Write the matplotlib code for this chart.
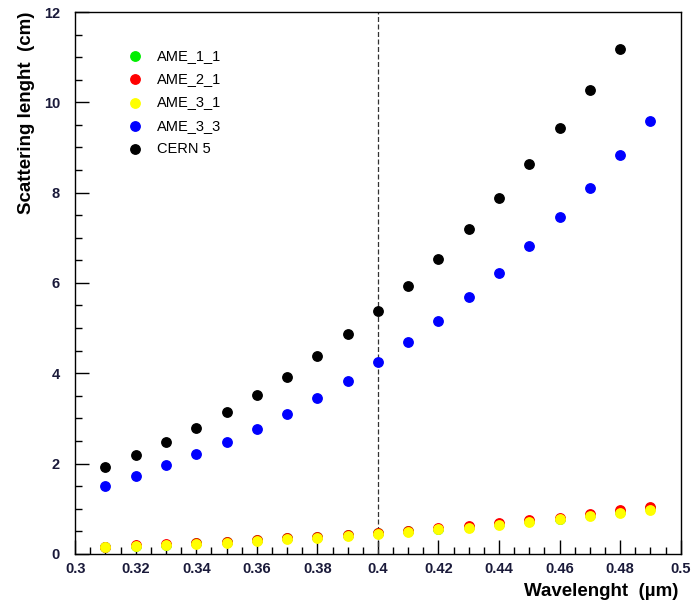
import matplotlib
matplotlib.use('Agg')
import matplotlib.pyplot as plt
from matplotlib.ticker import MultipleLocator

plt.rcParams['font.family'] = ['Liberation Sans', 'DejaVu Sans']

wl = [0.31, 0.32, 0.33, 0.34, 0.35, 0.36, 0.37, 0.38, 0.39, 0.40,
      0.41, 0.42, 0.43, 0.44, 0.45, 0.46, 0.47, 0.48, 0.49]

ame_1_1 = [0.16, 0.18, 0.20, 0.23, 0.26, 0.30, 0.34, 0.37, 0.41, 0.45,
           0.50, 0.55, 0.60, 0.66, 0.72, 0.78, 0.86, 0.93, 1.01]
ame_2_1 = [0.16, 0.185, 0.21, 0.24, 0.27, 0.31, 0.35, 0.38, 0.42, 0.46,
           0.51, 0.57, 0.62, 0.68, 0.74, 0.80, 0.89, 0.96, 1.04]
ame_3_1 = [0.155, 0.17, 0.19, 0.22, 0.25, 0.29, 0.32, 0.35, 0.39, 0.43,
           0.49, 0.54, 0.58, 0.64, 0.70, 0.76, 0.83, 0.91, 0.98]
ame_3_3 = [1.51, 1.73, 1.96, 2.21, 2.48, 2.77, 3.10, 3.45, 3.83, 4.24,
           4.70, 5.16, 5.68, 6.23, 6.82, 7.45, 8.11, 8.83, 9.59]
cern_5 = [1.93, 2.19, 2.48, 2.79, 3.14, 3.52, 3.92, 4.38, 4.87, 5.38,
          5.93, 6.53, 7.20, 7.88, 8.63, 9.43, 10.27, 11.18]

fig = plt.figure(figsize=(6.96, 6.0), dpi=100)
ax = fig.add_axes([0.108, 0.077, 0.870, 0.903])

ms = 46
ax.scatter(wl, ame_1_1, s=ms, color='#00ee00', label='AME_1_1', zorder=3)
ax.scatter(wl, ame_2_1, s=ms, color='#ff0000', label='AME_2_1', zorder=3)
ax.scatter(wl, ame_3_1, s=ms, color='#ffff00', label='AME_3_1', zorder=3)
ax.scatter(wl, ame_3_3, s=ms, color='#0000ff', label='AME_3_3', zorder=3)
ax.scatter(wl[:len(cern_5)], cern_5, s=ms, color='black', label='CERN 5', zorder=3)

ax.axvline(0.4, color='#333333', linestyle=(0, (4, 2)), linewidth=0.9, zorder=2)

ax.set_xlim(0.3, 0.5)
ax.set_ylim(0, 12)
ax.xaxis.set_major_locator(MultipleLocator(0.02))
ax.xaxis.set_minor_locator(MultipleLocator(0.005))
ax.yaxis.set_major_locator(MultipleLocator(2))
ax.yaxis.set_minor_locator(MultipleLocator(0.5))
ax.tick_params(which='both', direction='in', top=False, right=False, width=1)
ax.tick_params(which='major', length=10, labelsize=10.5)
ax.tick_params(axis='x', which='major', pad=6)
ax.tick_params(axis='y', which='major', pad=11)
ax.tick_params(which='minor', length=5)
ax.set_xticklabels([f'{v:g}' for v in ax.get_xticks()])
for lbl in ax.get_xticklabels() + ax.get_yticklabels():
    lbl.set_fontweight('bold')
    lbl.set_color('#1a1a3a')

for sp in ax.spines.values():
    sp.set_linewidth(1.0)

ax.set_ylabel('Scattering lenght  (cm)', fontsize=13.5, fontweight='bold')
ax.yaxis.set_label_coords(-0.066, 1.0)
ax.yaxis.label.set_horizontalalignment('right')
ax.set_xlabel('Wavelenght  (\u00b5m)', fontsize=13.5, fontweight='bold')
ax.xaxis.set_label_coords(0.996, -0.054)
ax.xaxis.label.set_horizontalalignment('right')

ax.legend(loc='upper left', bbox_to_anchor=(0.053, 0.956), frameon=False,
          fontsize=10.5, handletextpad=0.5, labelspacing=0.63, scatterpoints=1)

plt.savefig('out.png', dpi=100)
